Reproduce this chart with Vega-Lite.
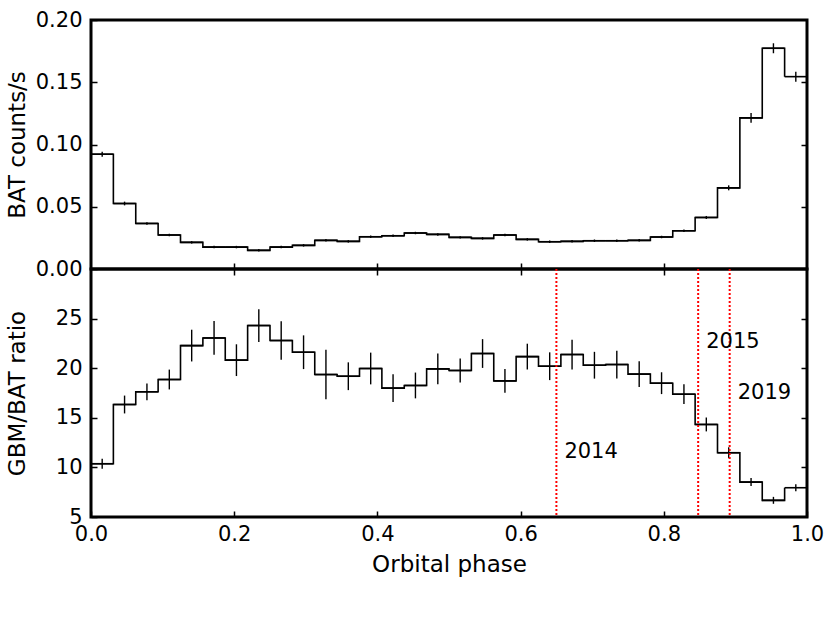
{
  "$schema": "https://vega.github.io/schema/vega-lite/v6.json",
  "background": "white",
  "padding": {"left": 4, "top": 7, "right": 5, "bottom": 5},
  "spacing": 0,
  "bounds": "flush",
  "config": {
    "view": {"stroke": "black", "strokeWidth": 3},
    "font": "DejaVu Sans",
    "axis": {
      "domain": false,
      "grid": false,
      "tickColor": "black",
      "tickWidth": 1.5,
      "tickSize": -6,
      "labelFont": "DejaVu Sans",
      "labelFontSize": 21,
      "labelColor": "black",
      "labelFlush": false,
      "labelOverlap": false,
      "titleFont": "DejaVu Sans",
      "titleFontSize": 23,
      "titleFontWeight": "normal",
      "titleColor": "black"
    },
    "axisX": {"labelPadding": 12},
    "axisY": {"labelPadding": 15}
  },
  "datasets": {
    "bins": [
      {"lo": 0.0, "hi": 0.03125, "mid": 0.015625, "bat": 0.0922, "batErr": 0.002, "ratio": 10.37, "ratioErr": 0.5},
      {"lo": 0.03125, "hi": 0.0625, "mid": 0.046875, "bat": 0.0526, "batErr": 0.0015, "ratio": 16.34, "ratioErr": 0.9},
      {"lo": 0.0625, "hi": 0.09375, "mid": 0.078125, "bat": 0.0366, "batErr": 0.001, "ratio": 17.62, "ratioErr": 0.85},
      {"lo": 0.09375, "hi": 0.125, "mid": 0.109375, "bat": 0.0273, "batErr": 0.001, "ratio": 18.86, "ratioErr": 1.0},
      {"lo": 0.125, "hi": 0.15625, "mid": 0.140625, "bat": 0.0214, "batErr": 0.001, "ratio": 22.28, "ratioErr": 1.6},
      {"lo": 0.15625, "hi": 0.1875, "mid": 0.171875, "bat": 0.0176, "batErr": 0.001, "ratio": 23.05, "ratioErr": 1.7},
      {"lo": 0.1875, "hi": 0.21875, "mid": 0.203125, "bat": 0.0176, "batErr": 0.001, "ratio": 20.81, "ratioErr": 1.6},
      {"lo": 0.21875, "hi": 0.25, "mid": 0.234375, "bat": 0.015, "batErr": 0.001, "ratio": 24.3, "ratioErr": 1.65},
      {"lo": 0.25, "hi": 0.28125, "mid": 0.265625, "bat": 0.0176, "batErr": 0.001, "ratio": 22.79, "ratioErr": 1.95},
      {"lo": 0.28125, "hi": 0.3125, "mid": 0.296875, "bat": 0.019, "batErr": 0.001, "ratio": 21.61, "ratioErr": 1.7},
      {"lo": 0.3125, "hi": 0.34375, "mid": 0.328125, "bat": 0.023, "batErr": 0.001, "ratio": 19.36, "ratioErr": 2.5},
      {"lo": 0.34375, "hi": 0.375, "mid": 0.359375, "bat": 0.0222, "batErr": 0.001, "ratio": 19.19, "ratioErr": 1.4},
      {"lo": 0.375, "hi": 0.40625, "mid": 0.390625, "bat": 0.0259, "batErr": 0.001, "ratio": 19.97, "ratioErr": 1.6},
      {"lo": 0.40625, "hi": 0.4375, "mid": 0.421875, "bat": 0.0267, "batErr": 0.001, "ratio": 17.99, "ratioErr": 1.4},
      {"lo": 0.4375, "hi": 0.46875, "mid": 0.453125, "bat": 0.0289, "batErr": 0.001, "ratio": 18.26, "ratioErr": 1.3},
      {"lo": 0.46875, "hi": 0.5, "mid": 0.484375, "bat": 0.0278, "batErr": 0.001, "ratio": 19.93, "ratioErr": 1.55},
      {"lo": 0.5, "hi": 0.53125, "mid": 0.515625, "bat": 0.0254, "batErr": 0.001, "ratio": 19.77, "ratioErr": 1.2},
      {"lo": 0.53125, "hi": 0.5625, "mid": 0.546875, "bat": 0.0246, "batErr": 0.001, "ratio": 21.48, "ratioErr": 1.45},
      {"lo": 0.5625, "hi": 0.59375, "mid": 0.578125, "bat": 0.0273, "batErr": 0.001, "ratio": 18.72, "ratioErr": 1.2},
      {"lo": 0.59375, "hi": 0.625, "mid": 0.609375, "bat": 0.0238, "batErr": 0.001, "ratio": 21.17, "ratioErr": 1.3},
      {"lo": 0.625, "hi": 0.65625, "mid": 0.640625, "bat": 0.0219, "batErr": 0.001, "ratio": 20.2, "ratioErr": 1.4},
      {"lo": 0.65625, "hi": 0.6875, "mid": 0.671875, "bat": 0.0222, "batErr": 0.001, "ratio": 21.38, "ratioErr": 1.5},
      {"lo": 0.6875, "hi": 0.71875, "mid": 0.703125, "bat": 0.0227, "batErr": 0.001, "ratio": 20.3, "ratioErr": 1.35},
      {"lo": 0.71875, "hi": 0.75, "mid": 0.734375, "bat": 0.0227, "batErr": 0.001, "ratio": 20.37, "ratioErr": 1.4},
      {"lo": 0.75, "hi": 0.78125, "mid": 0.765625, "bat": 0.023, "batErr": 0.001, "ratio": 19.4, "ratioErr": 1.3},
      {"lo": 0.78125, "hi": 0.8125, "mid": 0.796875, "bat": 0.0257, "batErr": 0.001, "ratio": 18.49, "ratioErr": 1.1},
      {"lo": 0.8125, "hi": 0.84375, "mid": 0.828125, "bat": 0.0307, "batErr": 0.001, "ratio": 17.38, "ratioErr": 1.0},
      {"lo": 0.84375, "hi": 0.875, "mid": 0.859375, "bat": 0.0414, "batErr": 0.0012, "ratio": 14.33, "ratioErr": 0.7},
      {"lo": 0.875, "hi": 0.90625, "mid": 0.890625, "bat": 0.0652, "batErr": 0.002, "ratio": 11.48, "ratioErr": 0.55},
      {"lo": 0.90625, "hi": 0.9375, "mid": 0.921875, "bat": 0.1214, "batErr": 0.004, "ratio": 8.52, "ratioErr": 0.4},
      {"lo": 0.9375, "hi": 0.96875, "mid": 0.953125, "bat": 0.1773, "batErr": 0.004, "ratio": 6.68, "ratioErr": 0.35},
      {"lo": 0.96875, "hi": 1.0, "mid": 0.984375, "bat": 0.1545, "batErr": 0.004, "ratio": 7.95, "ratioErr": 0.35}
    ],
    "years": [
      {"pos": 0.65, "label": "2014", "ly": 11.6},
      {"pos": 0.848, "label": "2015", "ly": 22.6},
      {"pos": 0.892, "label": "2019", "ly": 17.55}
    ]
  },
  "vconcat": [
    {
      "width": 716,
      "height": 249,
      "data": {"name": "bins"},
      "resolve": {"axis": {"x": "independent", "y": "independent"}},
      "layer": [
        {
          "mark": {"type": "line", "interpolate": "step-after", "color": "black", "strokeWidth": 1.6},
          "encoding": {
            "x": {"field": "lo", "type": "quantitative", "scale": {"domain": [0, 1], "nice": false, "zero": false},
                  "axis": {"orient": "bottom", "labels": false, "title": null, "values": [0.2, 0.4, 0.6, 0.8]}},
            "y": {"field": "bat", "type": "quantitative", "scale": {"domain": [0, 0.2], "nice": false},
                  "axis": {"orient": "left", "title": "BAT counts/s", "values": [0, 0.05, 0.1, 0.15, 0.2], "format": ".2f",
                           "titleX": -74, "titleBaseline": "middle"}}
          }
        },
        {
          "mark": {"type": "rule", "color": "black", "strokeWidth": 1.6},
          "encoding": {
            "x": {"field": "lo", "type": "quantitative", "scale": {"domain": [0, 1], "nice": false, "zero": false}, "axis": null},
            "x2": {"field": "hi"},
            "y": {"field": "bat", "type": "quantitative", "scale": {"domain": [0, 0.2], "nice": false},
                  "axis": {"orient": "right", "labels": false, "title": null, "values": [0.05, 0.1, 0.15]}}
          }
        },
        {
          "mark": {"type": "errorbar", "color": "black", "thickness": 1.4},
          "encoding": {
            "x": {"field": "mid", "type": "quantitative", "scale": {"domain": [0, 1], "nice": false, "zero": false}, "axis": null},
            "y": {"field": "bat", "type": "quantitative", "scale": {"domain": [0, 0.2], "nice": false}, "axis": null},
            "yError": {"field": "batErr"}
          }
        }
      ]
    },
    {
      "width": 716,
      "height": 248,
      "resolve": {"axis": {"x": "independent", "y": "independent"}},
      "layer": [
        {
          "data": {"name": "bins"},
          "mark": {"type": "line", "interpolate": "step-after", "color": "black", "strokeWidth": 1.6},
          "encoding": {
            "x": {"field": "lo", "type": "quantitative", "scale": {"domain": [0, 1], "nice": false, "zero": false},
                  "axis": {"orient": "bottom", "title": "Orbital phase", "values": [0, 0.2, 0.4, 0.6, 0.8, 1.0], "format": ".1f", "titlePadding": 9}},
            "y": {"field": "ratio", "type": "quantitative", "scale": {"domain": [5, 30], "nice": false, "zero": false},
                  "axis": {"orient": "left", "title": "GBM/BAT ratio", "values": [5, 10, 15, 20, 25], "format": "d",
                           "titleX": -74, "titleBaseline": "middle"}}
          }
        },
        {
          "data": {"name": "bins"},
          "mark": {"type": "rule", "color": "black", "strokeWidth": 1.6},
          "encoding": {
            "x": {"field": "lo", "type": "quantitative", "scale": {"domain": [0, 1], "nice": false, "zero": false},
                  "axis": {"orient": "top", "labels": false, "title": null, "values": [0.2, 0.4, 0.6, 0.8]}},
            "x2": {"field": "hi"},
            "y": {"field": "ratio", "type": "quantitative", "scale": {"domain": [5, 30], "nice": false, "zero": false},
                  "axis": {"orient": "right", "labels": false, "title": null, "values": [10, 15, 20, 25]}}
          }
        },
        {
          "data": {"name": "bins"},
          "mark": {"type": "errorbar", "color": "black", "thickness": 1.4},
          "encoding": {
            "x": {"field": "mid", "type": "quantitative", "scale": {"domain": [0, 1], "nice": false, "zero": false}, "axis": null},
            "y": {"field": "ratio", "type": "quantitative", "scale": {"domain": [5, 30], "nice": false, "zero": false}, "axis": null},
            "yError": {"field": "ratioErr"}
          }
        },
        {
          "data": {"name": "years"},
          "mark": {"type": "rule", "color": "#ff0000", "strokeWidth": 2, "strokeDash": [2, 2]},
          "encoding": {
            "x": {"field": "pos", "type": "quantitative", "scale": {"domain": [0, 1], "nice": false, "zero": false}, "axis": null}
          }
        },
        {
          "data": {"name": "years"},
          "mark": {"type": "text", "align": "left", "baseline": "middle", "dx": 8, "fontSize": 21, "font": "DejaVu Sans", "color": "black"},
          "encoding": {
            "x": {"field": "pos", "type": "quantitative", "scale": {"domain": [0, 1], "nice": false, "zero": false}, "axis": null},
            "y": {"field": "ly", "type": "quantitative", "scale": {"domain": [5, 30], "nice": false, "zero": false}, "axis": null},
            "text": {"field": "label"}
          }
        }
      ]
    }
  ]
}
